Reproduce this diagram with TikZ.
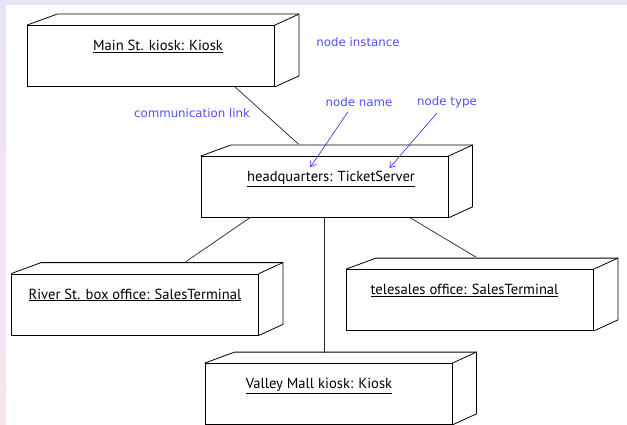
\documentclass[tikz,border=0pt]{standalone}
\usepackage{fontspec}
\setmainfont{PT Sans}
\newfontfamily\notefont{DejaVu Sans}
\usetikzlibrary{arrows,arrows.meta,calc,positioning}
\definecolor{noteblue}{RGB}{80,80,255}
\definecolor{arrowblue}{RGB}{40,40,255}
\definecolor{frametop}{RGB}{232,228,246}
\definecolor{framebot}{RGB}{248,228,236}
\tikzstyle{every picture}+=[>={Straight Barb[length=5pt,width=7pt]}]
\tikzstyle{device}=[rectangle,draw=black,line width=0.8pt,minimum width=247pt,inner ysep=0pt,text height=25pt,text depth=36pt,font=\fontsize{14.6}{16}\selectfont]
\tikzstyle{link}=[draw=black!85,line width=0.7pt]
\tikzstyle{note}=[text=noteblue,inner sep=1pt,font=\notefont\fontsize{11.8}{13}\selectfont]
\tikzstyle{pointer}=[->,draw=arrowblue,line width=0.6pt]
% back faces of a node box
\def\devdepth#1{%
  \draw[line width=0.8pt] (#1.north west) -- ++(30,-11) -- ($(#1.north east)+(24,-11)$)
    -- ($(#1.south east)+(24,-11)$) -- (#1.south east);
  \draw[line width=0.8pt] (#1.north east) -- ++(24,-11);}

\begin{document}
\begin{tikzpicture}[x=1pt,y=-1pt]
\useasboundingbox (0,0) rectangle (627,425);
\shade[top color=frametop,bottom color=framebot] (0,0) rectangle (627,425);
\fill[white] (6,5) rectangle (627,425);
% the nodes
\node[device] (mainkiosk) at (151,56) {\hspace*{14pt}\underline{Main St. kiosk: Kiosk}};
\node[device] (hq) at (324.5,187) {\hspace*{13pt}\underline{headquarters: TicketServer}};
\node[device] (river) at (135,304.5) {\underline{River St. box office: SalesTerminal}};
\node[device] (telesales) at (470,300) {\underline{telesales office: SalesTerminal}\hspace*{11pt}};
\node[device] (valley) at (328.5,394) {\underline{Valley Mall kiosk: Kiosk}\hspace*{19pt}};
\foreach \n in {mainkiosk,hq,river,telesales,valley} {\devdepth{\n}}
% communication links
\draw[link] ([xshift=-40pt]mainkiosk.south east) -- ($(hq.north)+(-26,-12)$);
\draw[link] ([xshift=49pt]hq.south west) -- ($(river.north)+(51,-12)$);
\draw[link] (hq.south) -- ($(hq.south |- valley.north)+(0,-10)$);
\draw[link] ([xshift=-38pt]hq.south east) -- ($(telesales.north)+(6,-12)$);
% notes
\node[note] (ninstance) at (358,42) {node instance};
\node[note] (commlink) at (192,113) {communication link};
\node[note] (nname) at (359,102) {node name};
\node[note] (ntype) at (447,102) {node type};
\coordinate (nametip) at ($(hq.center)+(-14,-20)$);
\coordinate (typetip) at ($(hq.center)+(65,-19)$);
\draw[pointer] ([xshift=-11pt,yshift=-4pt]nname.south) -- (nametip);
\draw[pointer] ([xshift=-10pt,yshift=-4pt]ntype.south) -- (typetip);
\end{tikzpicture}
\end{document}
